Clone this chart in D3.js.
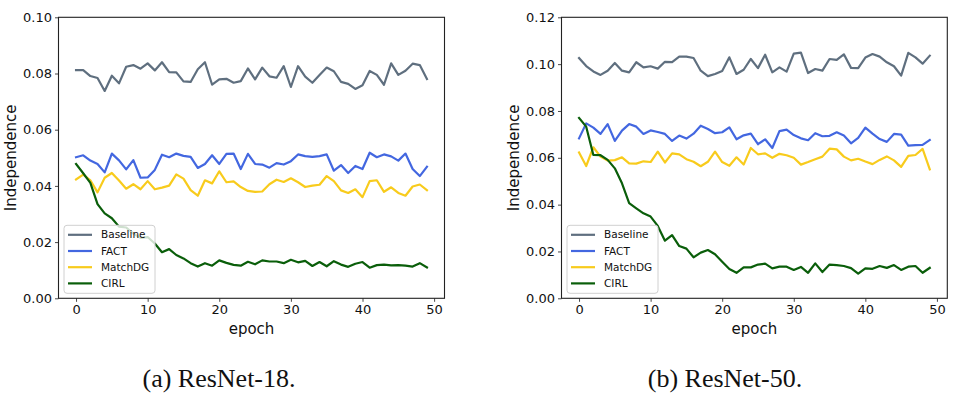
<!DOCTYPE html>
<html><head><meta charset="utf-8">
<script src="https://cdn.jsdelivr.net/npm/d3@7"></script>
<style>body{margin:0;background:#fff}svg{display:block}</style>
</head><body>
<svg id="c" width="954" height="396"></svg>
<script>
const epochs = d3.range(0, 50);
const seriesNames = ["Baseline", "FACT", "MatchDG", "CIRL"];
const seriesColors = ["#5f6f7f", "#4367e0", "#f8cb1c", "#0a5e0a"];
const xTicks = [0, 10, 20, 30, 40, 50];
const yTicksA = [0, 0.02, 0.04, 0.06, 0.08, 0.10];
const yTicksB = [0, 0.02, 0.04, 0.06, 0.08, 0.10, 0.12];
const captions = ["(a) ResNet-18.", "(b) ResNet-50."];

// ResNet-18
const baseline18 = [0.0812,0.0812,0.0791,0.0784,0.0738,0.0792,0.0765,0.0824,0.0830,0.0817,0.0836,0.0811,0.0840,0.0805,0.0804,0.0772,0.0770,0.0815,0.0840,0.0760,0.0779,0.0781,0.0767,0.0773,0.0818,0.0779,0.0821,0.0790,0.0785,0.0826,0.0752,0.0826,0.0789,0.0767,0.0795,0.0821,0.0808,0.0770,0.0763,0.0745,0.0758,0.0809,0.0795,0.0760,0.0836,0.0795,0.0810,0.0835,0.0830,0.0780];
const fact18 = [0.0502,0.0509,0.0490,0.0478,0.0448,0.0515,0.0491,0.0459,0.0492,0.0429,0.0430,0.0457,0.0511,0.0502,0.0515,0.0507,0.0503,0.0464,0.0478,0.0509,0.0478,0.0514,0.0515,0.0460,0.0514,0.0478,0.0476,0.0465,0.0481,0.0476,0.0488,0.0512,0.0506,0.0503,0.0506,0.0512,0.0454,0.0474,0.0446,0.0471,0.0460,0.0518,0.0502,0.0512,0.0505,0.0490,0.0515,0.0460,0.0435,0.0468];
const matchdg18 = [0.0423,0.0440,0.0420,0.0377,0.0429,0.0446,0.0419,0.0390,0.0406,0.0388,0.0417,0.0388,0.0394,0.0401,0.0441,0.0426,0.0385,0.0365,0.0420,0.0409,0.0452,0.0413,0.0416,0.0396,0.0382,0.0379,0.0380,0.0406,0.0422,0.0414,0.0427,0.0413,0.0396,0.0401,0.0404,0.0435,0.0417,0.0384,0.0375,0.0388,0.0360,0.0417,0.0420,0.0379,0.0395,0.0375,0.0365,0.0398,0.0405,0.0385];
const cirl18 = [0.0478,0.0445,0.0411,0.0335,0.0302,0.0285,0.0255,0.0252,0.0230,0.0215,0.0218,0.0195,0.0164,0.0175,0.0154,0.0142,0.0125,0.0113,0.0125,0.0116,0.0135,0.0126,0.0119,0.0116,0.0130,0.0121,0.0135,0.0131,0.0131,0.0125,0.0137,0.0128,0.0133,0.0115,0.0129,0.0114,0.0132,0.0120,0.0112,0.0123,0.0129,0.0109,0.0118,0.0120,0.0117,0.0118,0.0116,0.0113,0.0125,0.0110];

// ResNet-50
const baseline50 = [0.1026,0.0992,0.0969,0.0954,0.0972,0.1005,0.0972,0.0965,0.1008,0.0986,0.0991,0.0981,0.1010,0.1009,0.1032,0.1032,0.1026,0.0972,0.0949,0.0958,0.0971,0.1029,0.0958,0.0976,0.1022,0.0983,0.1040,0.0965,0.0986,0.0968,0.1045,0.1049,0.0962,0.0979,0.0972,0.1022,0.1018,0.1042,0.0984,0.0983,0.1028,0.1043,0.1032,0.1008,0.0991,0.0951,0.1048,0.1029,0.1002,0.1036];
const fact50 = [0.0683,0.0747,0.0729,0.0702,0.0744,0.0672,0.0716,0.0744,0.0733,0.0702,0.0717,0.0710,0.0702,0.0672,0.0695,0.0682,0.0703,0.0737,0.0723,0.0705,0.0709,0.0730,0.0679,0.0696,0.0703,0.0658,0.0679,0.0642,0.0714,0.0720,0.0697,0.0683,0.0675,0.0705,0.0692,0.0694,0.0709,0.0695,0.0662,0.0685,0.0729,0.0703,0.0680,0.0668,0.0702,0.0699,0.0652,0.0654,0.0655,0.0676];
const matchdg50 = [0.0623,0.0565,0.0645,0.0605,0.0588,0.0590,0.0602,0.0576,0.0575,0.0585,0.0582,0.0626,0.0580,0.0619,0.0615,0.0594,0.0583,0.0564,0.0583,0.0626,0.0582,0.0566,0.0602,0.0571,0.0642,0.0615,0.0619,0.0600,0.0617,0.0611,0.0600,0.0571,0.0582,0.0594,0.0605,0.0639,0.0636,0.0605,0.0589,0.0596,0.0584,0.0573,0.0591,0.0606,0.0589,0.0561,0.0608,0.0612,0.0638,0.0551];
const cirl50 = [0.0770,0.0733,0.0612,0.0611,0.0591,0.0555,0.0491,0.0406,0.0384,0.0363,0.0349,0.0309,0.0246,0.0270,0.0223,0.0212,0.0175,0.0195,0.0206,0.0188,0.0156,0.0125,0.0109,0.0132,0.0132,0.0144,0.0148,0.0128,0.0135,0.0135,0.0121,0.0134,0.0109,0.0149,0.0112,0.0144,0.0142,0.0138,0.0129,0.0105,0.0128,0.0126,0.0138,0.0130,0.0142,0.0121,0.0135,0.0138,0.0109,0.0130];

const svg = d3.select("#c");
const FONT = "DejaVu Sans, sans-serif";

function panel(cfg) {
  const { left, right, top, bottom, ymax, yTicks, data, caption, capX, labelX } = cfg;
  const x = d3.scaleLinear().domain([-2.45, 51.45]).range([left, right]);
  const y = d3.scaleLinear().domain([0, ymax]).range([bottom, top]);
  const g = svg.append("g");

  const xAxis = g.append("g").attr("transform", `translate(0,${bottom})`)
    .call(d3.axisBottom(x).tickValues(xTicks).tickSize(3.5).tickPadding(3).tickFormat(d3.format("d")));
  const yAxis = g.append("g").attr("transform", `translate(${left},0)`)
    .call(d3.axisLeft(y).tickValues(yTicks).tickSize(3.5).tickPadding(3).tickFormat(d3.format(".2f")));
  [xAxis, yAxis].forEach(a => {
    a.select(".domain").remove();
    a.selectAll(".tick line").attr("stroke", "#333").attr("stroke-width", 0.9);
    a.selectAll(".tick text").attr("font-family", FONT).attr("font-size", 13).attr("fill", "#111");
  });

  const clipId = "clip" + Math.round(left);
  svg.append("clipPath").attr("id", clipId).append("rect")
    .attr("x", left).attr("y", top).attr("width", right - left).attr("height", bottom - top);

  const line = d3.line().x((d, i) => x(epochs[i])).y(d => y(d));
  const lines = g.append("g").attr("clip-path", `url(#${clipId})`);
  data.forEach((s, i) => {
    lines.append("path").datum(s).attr("d", line).attr("fill", "none")
      .attr("stroke", seriesColors[i]).attr("stroke-width", 2.2)
      .attr("stroke-linejoin", "round").attr("stroke-linecap", "square");
  });

  // spines
  g.append("rect").attr("x", left).attr("y", top).attr("width", right - left).attr("height", bottom - top)
    .attr("fill", "none").attr("stroke", "#222").attr("stroke-width", 1.1);

  // legend
  const lg = g.append("g").attr("transform", `translate(${left + 5.5},${bottom - 73})`);
  lg.append("rect").attr("x", 0).attr("y", 0).attr("width", 91).attr("height", 68).attr("rx", 3)
    .attr("fill", "rgba(255,255,255,0.8)").attr("stroke", "#d0d0d0").attr("stroke-width", 1);
  seriesNames.forEach((n, i) => {
    const yy = 9.5 + i * 16.2;
    lg.append("line").attr("x1", 4).attr("x2", 28).attr("y1", yy).attr("y2", yy)
      .attr("stroke", seriesColors[i]).attr("stroke-width", 2.2);
    lg.append("text").attr("x", 37).attr("y", yy).attr("dy", "0.35em")
      .attr("font-family", FONT).attr("font-size", 10.5).attr("fill", "#111").text(n);
  });

  // axis labels
  g.append("text").attr("x", (left + right) / 2).attr("y", bottom + 36)
    .attr("text-anchor", "middle").attr("font-family", FONT).attr("font-size", 15).attr("fill", "#111").text("epoch");
  g.append("text").attr("transform", `translate(${labelX},${(top + bottom) / 2}) rotate(-90)`)
    .attr("text-anchor", "middle").attr("dy", "0.35em").attr("font-family", FONT).attr("font-size", 15).attr("fill", "#111").text("Independence");

  g.append("text").attr("x", capX).attr("y", 387).attr("text-anchor", "middle")
    .attr("font-family", "Liberation Serif, Times New Roman, serif").attr("font-size", 26).attr("fill", "#111").text(caption);
}

panel({ left: 58.5, right: 444.5, top: 17.3, bottom: 298.3, ymax: 0.10, yTicks: yTicksA,
  data: [baseline18, fact18, matchdg18, cirl18], caption: captions[0], capX: 219, labelX: 10.5 });
panel({ left: 561.5, right: 947.3, top: 17.3, bottom: 298.3, ymax: 0.12, yTicks: yTicksB,
  data: [baseline50, fact50, matchdg50, cirl50], caption: captions[1], capX: 725, labelX: 513.5 });
</script>
</body></html>
